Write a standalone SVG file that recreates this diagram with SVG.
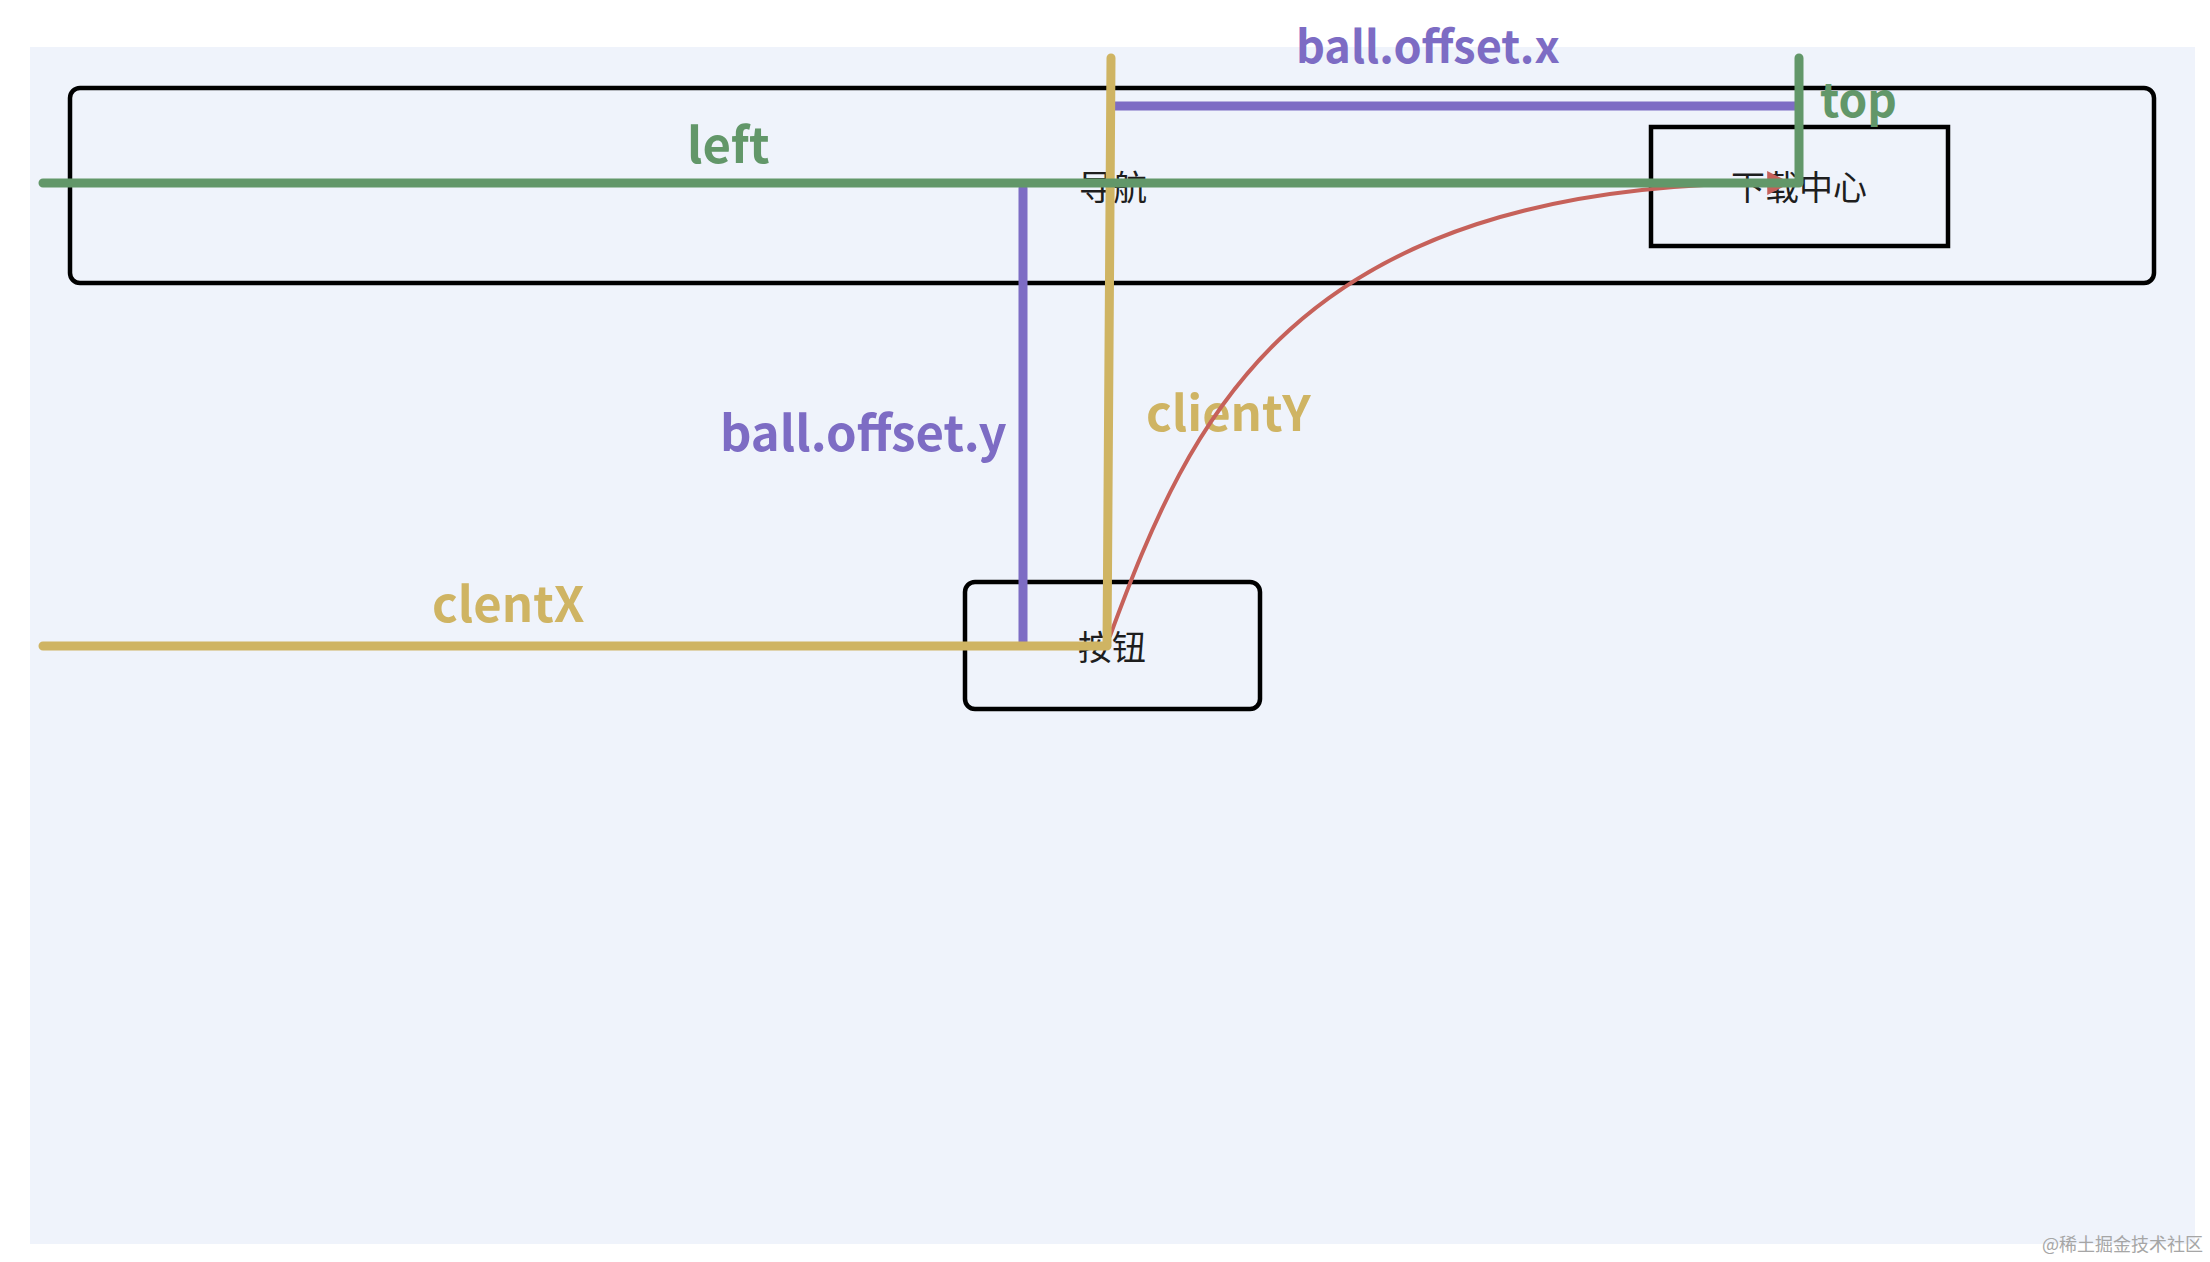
<svg xmlns="http://www.w3.org/2000/svg" width="2210" height="1262" viewBox="0 0 2210 1262">
<style>
.box{fill:none;stroke:#000;stroke-width:4.5}
.nt{font-family:"Noto Sans CJK SC","Noto Sans",sans-serif;font-size:34px;fill:#1e1e1e;text-anchor:middle}
.lb{font-family:"Noto Sans CJK SC","Noto Sans",sans-serif;font-weight:bold}
.ln{fill:none;stroke-linecap:round;stroke-linejoin:round}
.g{stroke:#629769;stroke-width:9}
.p{stroke:#7d6cc4;stroke-width:9}
.y{stroke:#cfb463;stroke-width:9}
.r{stroke:#c6615a;stroke-width:4}
</style>
<defs>
<marker id="arr" viewBox="0 0 10 10" refX="2" refY="5" markerWidth="6" markerHeight="6" orient="auto" markerUnits="strokeWidth">
<path d="M0,0 L10,5 L0,10 Z" fill="#c6615a"/>
</marker>
</defs>
<rect x="0" y="0" width="2210" height="1262" fill="#ffffff"/>
<rect x="30" y="47" width="2165" height="1197" fill="#eff3fb"/>
<g id="nav">
<rect class="box" x="70" y="88" width="2084" height="195" rx="10"/>
<text class="nt" x="1113" y="200">导航</text>
</g>
<g id="download">
<rect class="box" x="1651" y="127" width="297" height="119"/>
<text class="nt" x="1799" y="200">下载中心</text>
</g>
<g id="button">
<rect class="box" x="965" y="582" width="295" height="127" rx="10"/>
<text class="nt" x="1112" y="660">按钮</text>
</g>
<g id="labels">
<text class="lb" x="687" y="163" font-size="49" fill="#629769">left</text>
<text class="lb" x="1296" y="63" font-size="45" fill="#7d6cc4">ball.offset.x</text>
<text class="lb" x="1820" y="117" font-size="46" fill="#629769">top</text>
<text class="lb" x="720" y="451" font-size="49" fill="#7d6cc4">ball.offset.y</text>
<text class="lb" x="1146" y="431" font-size="49" fill="#cfb463">clientY</text>
<text class="lb" x="432" y="622" font-size="49" fill="#cfb463">clentX</text>
</g>
<g id="connectors">
<path class="ln r" d="M1110,636 C1190,420 1290,185 1772,183" marker-end="url(#arr)"/>
<path class="ln p" d="M1115,106 L1797,106"/>
<path class="ln p" d="M1023,188 L1023,642"/>
<path class="ln y" d="M43,646 L1107,646 L1111,58"/>
<path class="ln g" d="M43,183 L1799,183 L1799,58"/>
</g>
<text x="2203" y="1251" font-family="Noto Sans CJK SC,sans-serif" font-size="18" fill="#a6a6a6" text-anchor="end">@稀土掘金技术社区</text>
</svg>
